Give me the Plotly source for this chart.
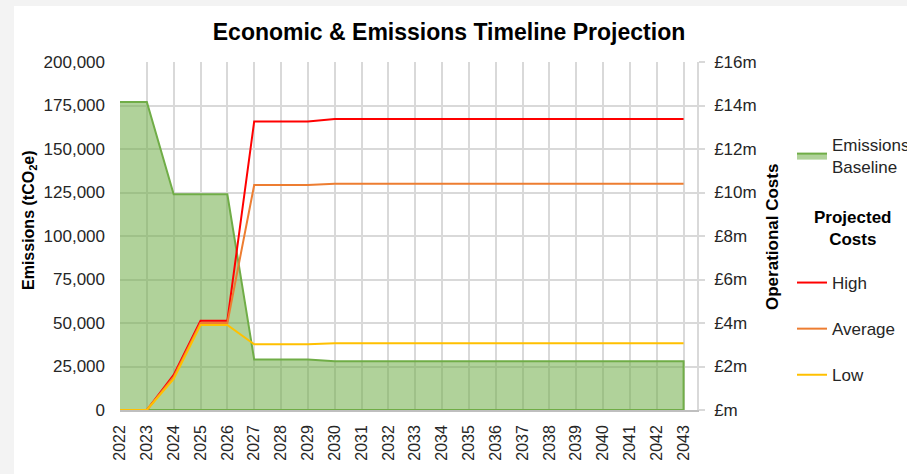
import plotly.graph_objects as go

years = list(range(2022, 2044))
emissions = [177000, 177000, 124000, 124000, 124000, 29000, 29000, 29000] + [28000] * 14
cost_high = [0, 0, 1.61, 4.1, 4.1, 13.27, 13.27, 13.27] + [13.38] * 14
cost_avg = [0, 0, 1.52, 4.0, 4.0, 10.34, 10.34, 10.34] + [10.4] * 14
cost_low = [0, 0, 1.43, 3.91, 3.91, 3.02, 3.02, 3.02] + [3.07] * 14

left_ticks = [0, 25000, 50000, 75000, 100000, 125000, 150000, 175000, 200000]
right_ticks = [0, 2, 4, 6, 8, 10, 12, 14, 16]
right_labels = ["£m", "£2m", "£4m", "£6m", "£8m", "£10m", "£12m", "£14m", "£16m"]

FONT = "Liberation Sans, Arial, sans-serif"

# plot area in pixels (for placing text around it)
L, R, T, B = 120, 697, 62, 410
W, H = 907, 474
pw, ph = R - L, B - T
def px(x):
    return (x - L) / pw
def py(y):
    return (B - y) / ph
def cx(x):
    return x / W
def cy(y):
    return 1 - y / H

fig = go.Figure()

# emissions area (closed outline to the baseline, as in the original)
fig.add_trace(go.Scatter(
    x=years + [years[-1], years[0]],
    y=emissions + [0, 0],
    mode="lines", fill="toself",
    fillcolor="rgba(112,173,71,0.55)",
    line=dict(color="#70ad47", width=2),
    name="Emissions<br>Baseline",
    legend="legend", hoverinfo="skip",
))

for name, vals, col in [("High", cost_high, "#ff0000"),
                        ("Average", cost_avg, "#ed7d31"),
                        ("Low", cost_low, "#ffc000")]:
    fig.add_trace(go.Scatter(
        x=years, y=vals, yaxis="y2", mode="lines",
        line=dict(color=col, width=2), name=name,
        legend="legend2", legendgroup=name,
    ))

fig.update_layout(
    width=W, height=H,
    margin=dict(l=L, r=W - R, t=T, b=H - B, pad=0, autoexpand=False),
    paper_bgcolor="#f3f3f3",
    plot_bgcolor="white",
    font=dict(family=FONT, size=17, color="#262626"),
    title=dict(text="<b>Economic & Emissions Timeline Projection</b>",
               font=dict(size=23, color="black"),
               x=px(449), xref="paper", xanchor="center",
               y=1 - 32 / H, yref="container", yanchor="middle"),
    xaxis=dict(range=[years[0], years[-1] + 0.5], tickvals=years,
               ticktext=[str(y) for y in years], tickangle=-90,
               tickfont=dict(size=16), showgrid=True, gridcolor="#d9d9d9",
               gridwidth=1.5, showline=True, linecolor="#bfbfbf",
               linewidth=1.5, zeroline=False, ticks="", ticklabelstandoff=7,
               automargin=False, layer="below traces"),
    yaxis=dict(range=[0, 200000], tickvals=left_ticks, tickformat=",d",
               showgrid=True, gridcolor="#d9d9d9", gridwidth=1.5,
               zeroline=False, showline=False, ticks="",
               ticklabelstandoff=14, automargin=False),
    yaxis2=dict(range=[0, 16], tickvals=right_ticks, ticktext=right_labels,
                overlaying="y", side="right", showgrid=False, zeroline=False,
                showline=True, linecolor="#d9d9d9", linewidth=1.5,
                ticks="outside", ticklen=6, tickcolor="#d9d9d9",
                tickwidth=1.5, ticklabelstandoff=6, automargin=False),
    legend=dict(xref="container", yref="container", x=cx(792), y=cy(127),
                xanchor="left", yanchor="top",
                bgcolor="rgba(0,0,0,0)", font=dict(size=17, color="#262626")),
    legend2=dict(xref="container", yref="container", x=cx(792), y=cy(265),
                 xanchor="left", yanchor="top",
                 bgcolor="rgba(0,0,0,0)", font=dict(size=17, color="#262626"),
                 tracegroupgap=21),
    showlegend=True,
    shapes=[dict(type="rect", xref="paper", yref="paper",
                 x0=px(14), x1=px(W + 5), y0=py(H + 5), y1=py(6),
                 fillcolor="white", line=dict(width=0), layer="below")],
    annotations=[
        dict(text="<b>Emissions (tCO<sub>2</sub>e)</b>", textangle=-90,
             xref="paper", yref="paper", x=px(30), y=py(220),
             xanchor="center", yanchor="middle", showarrow=False,
             font=dict(size=16, color="black")),
        dict(text="<b>Operational Costs</b>", textangle=-90,
             xref="paper", yref="paper", x=px(772), y=py(237),
             xanchor="center", yanchor="middle", showarrow=False,
             font=dict(size=17, color="black")),
        dict(text="<b>Projected<br>Costs</b>",
             xref="paper", yref="paper", x=px(852), y=py(228),
             xanchor="center", yanchor="middle", showarrow=False,
             font=dict(size=17, color="black")),
    ],
)

fig.write_html("out.html", config={"displayModeBar": False},
               post_script="document.body.style.margin='0';document.body.style.overflow='hidden';")
